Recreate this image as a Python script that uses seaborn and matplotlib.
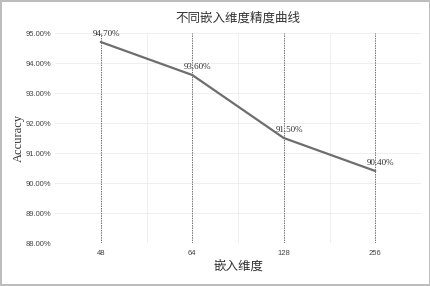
import pandas as pd
import matplotlib.pyplot as plt
import seaborn as sns
from matplotlib.ticker import FuncFormatter, MultipleLocator

dims = ["48", "64", "128", "256"]
accuracy = [94.70, 93.60, 91.50, 90.40]
acc_labels = ["94.70%", "93.60%", "91.50%", "90.40%"]

df = pd.DataFrame({"dim": dims, "acc": accuracy})

sns.set_theme(style="white")
plt.rcParams['font.family'] = ['Noto Sans CJK SC', 'DejaVu Sans']

fig = plt.figure(figsize=(4.31, 2.86), dpi=100)
fig.patch.set_edgecolor('#bdbdbd')
fig.patch.set_linewidth(1.5)
ax = fig.add_axes([55 / 431, 1 - 243 / 286, 366 / 431, 210 / 286])

sns.lineplot(data=df, x="dim", y="acc", sort=False, color='#6e6e6e', linewidth=1.6, ax=ax)

ax.set_xlim(-0.5, 3.5)
ax.set_ylim(88, 95)
ax.yaxis.set_major_locator(MultipleLocator(1))
ax.yaxis.set_major_formatter(FuncFormatter(lambda v, p: f"{v:.2f}%"))

# light grid: horizontal at each percent, vertical between categories
for y in range(88, 96):
    ax.axhline(y, color='#ececec', linewidth=0.6, zorder=0)
for xb in [0.5, 1.5, 2.5]:
    ax.axvline(xb, color='#ececec', linewidth=0.6, zorder=0)
# drop lines at categories
for i in range(len(dims)):
    ax.axvline(i, color='#707070', linewidth=0.7, linestyle=(0, (1.5, 1)), zorder=1)

for i, (v, lab) in enumerate(zip(accuracy, acc_labels)):
    ax.annotate(lab, (i, v), xytext=(4, 3), textcoords='offset points',
                ha='center', va='bottom', fontsize=6.5,
                family=['Liberation Serif', 'DejaVu Serif'], color='#333333')

for s in ax.spines.values():
    s.set_visible(False)
ax.tick_params(axis='y', length=0, labelsize=5.5, colors='#444444', pad=3)
ax.tick_params(axis='x', length=0, labelsize=5.5, colors='#444444', pad=5)
for t in ax.get_xticklabels() + ax.get_yticklabels():
    t.set_family(['Liberation Sans', 'DejaVu Sans'])

ax.set_title("不同嵌入维度精度曲线", fontsize=9, color='#333333', pad=8)
ax.set_xlabel("嵌入维度", fontsize=9, color='#333333', labelpad=2)
ax.set_ylabel("Accuracy", fontsize=9, color='#333333',
              family=['Liberation Serif', 'DejaVu Serif'], labelpad=0)

fig.savefig("out.png", dpi=100)
